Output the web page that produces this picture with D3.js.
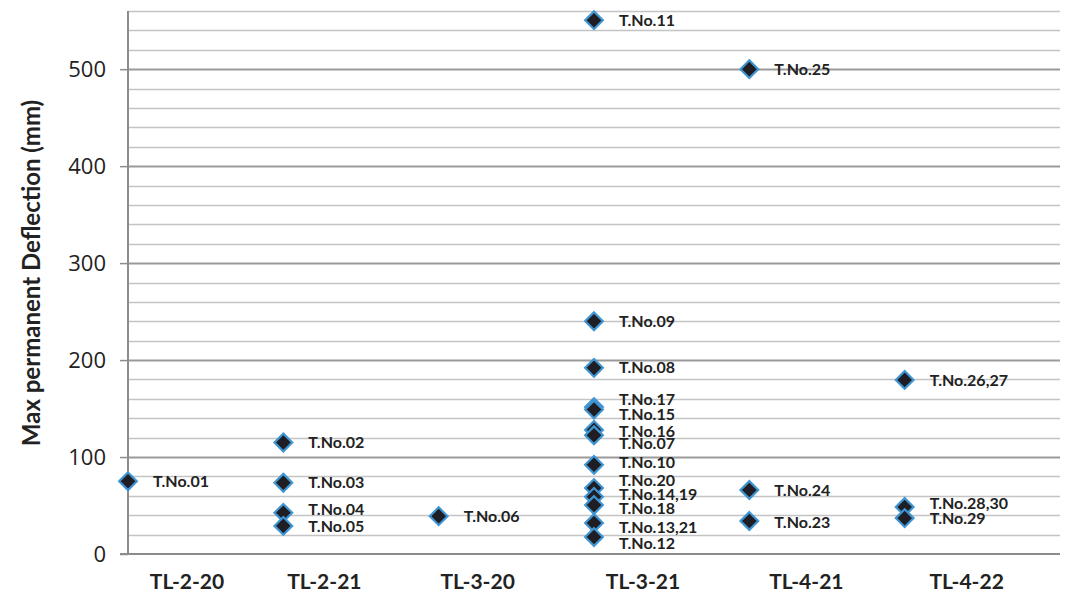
<!DOCTYPE html>
<html>
<head>
<meta charset="utf-8">
<script src="https://cdn.jsdelivr.net/npm/d3@7"></script>
<style>
  html, body { margin: 0; padding: 0; background: #fff; }
  svg { display: block; }
</style>
</head>
<body>
<svg id="chart" width="1079" height="605"></svg>
<script>
// ---- data ----
const categories = ["TL-2-20", "TL-2-21", "TL-3-20", "TL-3-21", "TL-4-21", "TL-4-22"];
const pointCategory = [0, 1, 1, 1, 1, 2, 3, 3, 3, 3, 3, 3, 3, 3, 3, 3, 3, 3, 3, 4, 4, 4, 5, 5, 5];
const pointValue = [75, 115, 73.5, 42.5, 29, 39, 550.5, 240, 192, 151.5, 149, 128, 122.5, 92, 68, 59, 50.5, 32, 17.5, 500, 66, 34, 179.5, 48.5, 37];
const pointLabel = ["T.No.01", "T.No.02", "T.No.03", "T.No.04", "T.No.05", "T.No.06",
  "T.No.11", "T.No.09", "T.No.08", "T.No.17", "T.No.15", "T.No.16", "T.No.07", "T.No.10",
  "T.No.20", "T.No.14,19", "T.No.18", "T.No.13,21", "T.No.12",
  "T.No.25", "T.No.24", "T.No.23", "T.No.26,27", "T.No.28,30", "T.No.29"];
const yTicks = [0, 100, 200, 300, 400, 500];
const yTitle = "Max permanent Deflection (mm)";

// ---- layout (px nudges for text placement, as in the original) ----
const labelNudge = [0, 0, 0, -3, 1, 0, 0, 0, 0, -8, 5, 2, 8, -2, -8, -2, 3, 4, 6, 0, 0, 1, 0, -4, 0];
const catLabelNudge = [9, -9, -11, -1, 7, 12];

(function () {
const svg = d3.select("#chart");
const pLeft = 128, pRight = 1060, pTop = 11, pBottom = 554;

const x = d3.scaleLinear().domain([0, 6]).range([pLeft, pRight]);
const y = d3.scaleLinear().domain([0, 560]).range([pBottom, pTop]);

// gridlines
const gridVals = d3.range(20, 561, 20);
svg.append("g").selectAll("line").data(gridVals).join("line")
  .attr("x1", pLeft).attr("x2", pRight)
  .attr("y1", d => Math.round(y(d)) + 0.5).attr("y2", d => Math.round(y(d)) + 0.5)
  .attr("stroke", d => d % 100 === 0 ? "#9a9a9a" : "#c4c4c4")
  .attr("stroke-width", d => d % 100 === 0 ? 2 : 1.3);

// y axis
const yAxis = d3.axisLeft(y).tickValues(yTicks).tickSize(8).tickPadding(14).tickFormat(d3.format("d"));
const gy = svg.append("g").attr("transform", `translate(${pLeft},0)`).call(yAxis);
gy.select(".domain").remove();
gy.selectAll(".tick line").attr("stroke", "#8c8c8c").attr("stroke-width", 1.5);
gy.selectAll(".tick text").attr("fill", "#222").style("font-family", "'Open Sans', sans-serif").style("font-size", "22px");
svg.append("line").attr("x1", pLeft).attr("x2", pLeft).attr("y1", pTop).attr("y2", pBottom)
  .attr("stroke", "#8c8c8c").attr("stroke-width", 2);
svg.append("line").attr("x1", pLeft - 8).attr("x2", pRight).attr("y1", pBottom).attr("y2", pBottom)
  .attr("stroke", "#8c8c8c").attr("stroke-width", 2);

// x category labels
svg.append("g").selectAll("text").data(categories).join("text")
  .attr("x", (d, i) => x(i) + 50 + catLabelNudge[i]).attr("y", 589)
  .attr("text-anchor", "middle")
  .attr("fill", "#222")
  .style("font-family", "Lato, sans-serif").style("font-weight", "bold").style("font-size", "21px")
  .text(d => d);

// y title
svg.append("text")
  .attr("transform", `translate(40,273) rotate(-90)`)
  .attr("text-anchor", "middle")
  .attr("fill", "#222")
  .style("font-family", "Lato, sans-serif").style("font-weight", "bold").style("font-size", "24px")
  .text(yTitle);

// points
const pts = pointValue.map((v, i) => ({ v, c: pointCategory[i], lab: pointLabel[i], n: labelNudge[i] }));
const diamond = d3.symbol().type(d3.symbolDiamond2).size(200);
svg.append("g").selectAll("path").data(pts).join("path")
  .attr("transform", d => `translate(${x(d.c)},${y(d.v)})`)
  .attr("d", diamond)
  .attr("fill", "#1e1e24")
  .attr("stroke", "#3f95d2")
  .attr("stroke-width", 2.2);

// point labels
svg.append("g").selectAll("text").data(pts).join("text")
  .attr("x", d => x(d.c) + 25)
  .attr("y", d => y(d.v) + d.n)
  .attr("dy", "0.35em")
  .attr("fill", "#222")
  .style("font-family", "Lato, sans-serif").style("font-weight", "bold").style("font-size", "16px")
  .text(d => d.lab);
})();
</script>
</body>
</html>
